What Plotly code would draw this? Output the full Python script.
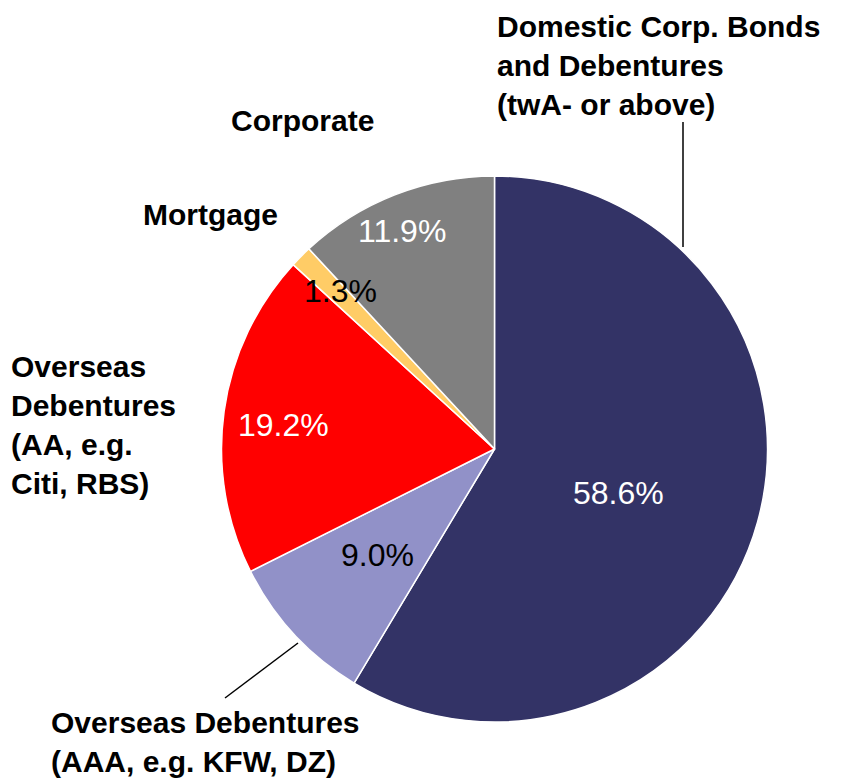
import plotly.graph_objects as go

categories = [
    "Domestic Corp. Bonds<br>and Debentures<br>(twA- or above)",
    "Overseas Debentures<br>(AAA, e.g. KFW, DZ)",
    "Overseas<br>Debentures<br>(AA, e.g.<br>Citi, RBS)",
    "Mortgage",
    "Corporate",
]
values = [58.6, 9.0, 19.2, 1.3, 11.9]
colors = ["#333366", "#9191C8", "#FF0000", "#FFCC66", "#808080"]
pct_colors = ["white", "black", "white", "black", "white"]

W, H = 846, 784
OFF = 8  # default page body margin
FONT = "Arial, Liberation Sans, sans-serif"

def px(x):
    return (x - OFF) / W

def py(y):
    return 1 - (y - OFF) / H

cx, cy, r = 494.5, 449, 273

# pixel positions of category labels (x, y, xanchor, yanchor)
label_pos = [(495, OFF, "left", "top"), (49, 742, "left", "middle"),
             (9, 425, "left", "middle"), (210, 214, "center", "middle"),
             (302, 121, "center", "middle")]
# pixel positions of percent labels
pct_pos = [(618, 493), (377, 555), (283, 425), (340, 291), (402, 231)]

fig = go.Figure(go.Pie(
    labels=categories,
    values=values,
    sort=False,
    direction="clockwise",
    rotation=0,
    marker=dict(colors=colors, line=dict(color="white", width=1.5)),
    textinfo="none",
    hoverinfo="label+percent",
    showlegend=False,
    domain=dict(x=[px(cx - r), px(cx + r)], y=[py(cy + r), py(cy - r)]),
))

annotations = []
for lab, (x, y, xa, ya) in zip(categories, label_pos):
    annotations.append(dict(
        x=px(x), y=py(y), xref="paper", yref="paper",
        text="<b>" + lab + "</b>", showarrow=False,
        xanchor=xa, yanchor=ya, align="left",
        font=dict(family=FONT, size=30, color="black"),
    ))
for v, (x, y), c in zip(values, pct_pos, pct_colors):
    annotations.append(dict(
        x=px(x), y=py(y), xref="paper", yref="paper",
        text=f"{v:.1f}%", showarrow=False,
        xanchor="center", yanchor="middle",
        font=dict(family=FONT, size=32, color=c),
    ))

shapes = [
    dict(type="line", xref="paper", yref="paper",
         x0=px(683), y0=py(122), x1=px(683), y1=py(247),
         line=dict(color="black", width=1.5)),
    dict(type="line", xref="paper", yref="paper",
         x0=px(225), y0=py(698), x1=px(298), y1=py(643),
         line=dict(color="black", width=1.5)),
]

fig.update_layout(
    width=W, height=H,
    margin=dict(l=0, r=0, t=0, b=0),
    paper_bgcolor="white",
    plot_bgcolor="white",
    annotations=annotations,
    shapes=shapes,
    font=dict(family=FONT),
)

fig.write_html("out.html")
